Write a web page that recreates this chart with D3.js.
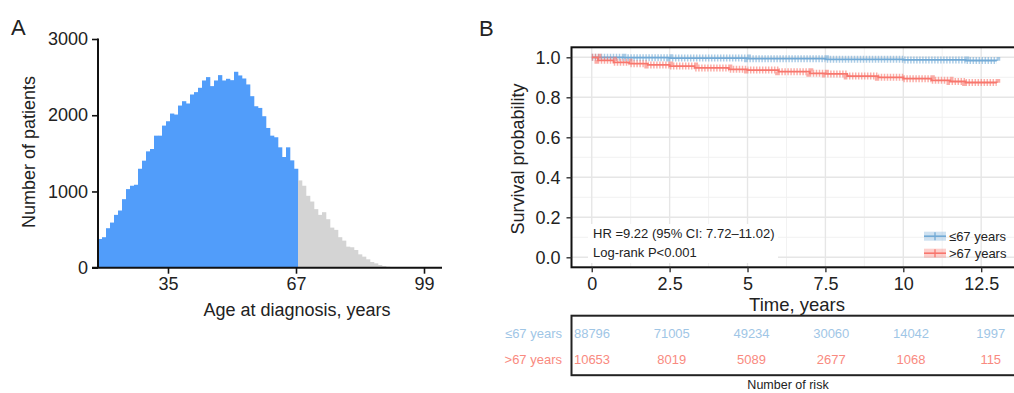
<!DOCTYPE html>
<html>
<head>
<meta charset="utf-8">
<script src="https://cdn.jsdelivr.net/npm/d3@7/dist/d3.min.js"></script>
<style>
  html, body { margin: 0; padding: 0; background: #fff; }
  svg text { font-family: "Liberation Sans", Arial, Helvetica, sans-serif; fill: #222; }
</style>
</head>
<body>
<svg id="chart" width="1014" height="393"></svg>
<script>
// ---- panel A data: patients per year of age (first bar = age 18)
const ageStart = 18;
const ageCutoff = 67;
const patientCounts = [
  377, 400, 518, 592, 693, 750, 899, 1031, 1075, 1088,
  1298, 1404, 1526, 1557, 1732, 1732, 1864, 1921, 2022, 2009,
  2127, 2184, 2154, 2272, 2303, 2360, 2456, 2500, 2382, 2456,
  2526, 2456, 2478, 2460, 2570, 2522, 2482, 2404, 2250, 2118,
  2096, 1987, 1833, 1732, 1711, 1579, 1452, 1579, 1408, 1298,
  1145, 1075, 943, 868, 768, 693, 728, 636, 526, 496,
  400, 355, 276, 268, 232, 175, 145, 110, 75, 57,
  35, 22, 13, 8, 5, 3, 2, 1
];
const ageTicks = [35, 67, 99];
const countTicks = [0, 1000, 2000, 3000];

// ---- panel B data: Kaplan-Meier curves
const groupNames = ["\u226467 years", ">67 years"];
const youngTimes = [0, 1, 2.5, 5, 7.5, 10, 12, 13];
const youngSurv  = [1.0, 0.998, 0.996, 0.993, 0.99, 0.987, 0.984, 0.983];
const oldTimes = [0, 0.2, 0.7, 1.2, 1.8, 2.5, 3.3, 4.4, 5, 6, 7, 7.5, 8.2, 9.2, 10, 10.9, 11.5, 12, 13];
const oldSurv  = [1.0, 0.985, 0.975, 0.968, 0.962, 0.956, 0.947, 0.94, 0.936, 0.928, 0.92, 0.917, 0.906, 0.9, 0.893, 0.885, 0.879, 0.874, 0.873];
const timeTicks = [0, 2.5, 5, 7.5, 10, 12.5];
const survTicks = [0, 0.2, 0.4, 0.6, 0.8, 1.0];

// ---- risk table
const riskTimes = [0, 2.5, 5, 7.5, 10, 12.5];
const youngAtRisk = [88796, 71005, 49234, 30060, 14042, 1997];
const oldAtRisk   = [10653, 8019, 5089, 2677, 1068, 115];

const blueBar = "#519dfa", greyBar = "#d4d4d4";
const blueLine = "#72aad6", redLine = "#f8766d";

const svg = d3.select("#chart");

// ================= panel A =================
const xA = d3.scaleLinear().domain([17.5, 103.5]).range([98, 442]);
const yA = d3.scaleLinear().domain([0, 3000]).range([267.7, 39]);

svg.append("text").attr("x", 11).attr("y", 35)
  .style("font-size", "22px").text("A");

const bars = patientCounts.map((c, i) => ({ age: ageStart + i, count: c }));
svg.append("g").selectAll("rect")
  .data(bars)
  .enter()
  .append("rect")
  .attr("x", d => xA(d.age - 0.5))
  .attr("width", d => xA(d.age + 0.5) - xA(d.age - 0.5) + 0.3)
  .attr("y", d => yA(d.count))
  .attr("height", d => yA(0) - yA(d.count))
  .attr("fill", d => d.age <= ageCutoff ? blueBar : greyBar);

const axA_y = svg.append("g").attr("transform", "translate(98,0)")
  .call(d3.axisLeft(yA).tickValues(countTicks).tickSize(6).tickPadding(4).tickFormat(d3.format("d")));
const axA_x = svg.append("g").attr("transform", "translate(0,267.7)")
  .call(d3.axisBottom(xA).tickValues(ageTicks).tickSize(6).tickPadding(4));
[axA_y, axA_x].forEach(ax => {
  ax.select(".domain").attr("stroke", "#111").attr("stroke-width", 2);
  ax.selectAll(".tick line").attr("stroke", "#111").attr("stroke-width", 1.6);
  ax.selectAll(".tick text").style("font-size", "18px").attr("fill", "#222")
    .style("font-family", "'Liberation Sans', Arial, sans-serif");
});
axA_y.select(".domain").attr("d", "M0,267.7V38.5");
axA_x.select(".domain").attr("d", "M92,0H442");

svg.append("text").attr("x", 297).attr("y", 316)
  .attr("text-anchor", "middle").style("font-size", "18px")
  .text("Age at diagnosis, years");
svg.append("text").attr("transform", "translate(34.5,152) rotate(-90)")
  .attr("text-anchor", "middle").style("font-size", "18px")
  .text("Number of patients");

// ================= panel B =================
const xB = d3.scaleLinear().domain([-0.65, 13.65]).range([571.5, 1017]);
const yB = d3.scaleLinear().domain([-0.05, 1.05]).range([267.3, 47.3]);

svg.append("text").attr("x", 479).attr("y", 36)
  .style("font-size", "22px").text("B");

const gridB = svg.append("g");
const minorT = [1.25, 3.75, 6.25, 8.75, 11.25, 13.75];
const minorS = [0.1, 0.3, 0.5, 0.7, 0.9];
gridB.selectAll(".vmin").data(minorT).enter().append("line")
  .attr("x1", d => xB(d)).attr("x2", d => xB(d))
  .attr("y1", yB.range()[0]).attr("y2", yB.range()[1])
  .attr("stroke", "#f0f0f0").attr("stroke-width", 0.9);
gridB.selectAll(".hmin").data(minorS).enter().append("line")
  .attr("x1", xB.range()[0]).attr("x2", xB.range()[1])
  .attr("y1", d => yB(d)).attr("y2", d => yB(d))
  .attr("stroke", "#f0f0f0").attr("stroke-width", 0.9);
gridB.selectAll(".vmaj").data(timeTicks).enter().append("line")
  .attr("x1", d => xB(d)).attr("x2", d => xB(d))
  .attr("y1", yB.range()[0]).attr("y2", yB.range()[1])
  .attr("stroke", "#e6e6e6").attr("stroke-width", 1.4);
gridB.selectAll(".hmaj").data(survTicks).enter().append("line")
  .attr("x1", xB.range()[0]).attr("x2", xB.range()[1])
  .attr("y1", d => yB(d)).attr("y2", d => yB(d))
  .attr("stroke", "#e6e6e6").attr("stroke-width", 1.4);

// white label box behind HR text
svg.append("rect").attr("x", 588).attr("y", 224).attr("width", 190).attr("height", 39)
  .attr("fill", "#fff");

const kmLine = d3.line()
  .x(d => xB(d[0]))
  .y(d => yB(d[1]))
  .curve(d3.curveStepAfter);

const curves = [
  { pts: youngTimes.map((t, i) => [t, youngSurv[i]]), color: blueLine },
  { pts: oldTimes.map((t, i) => [t, oldSurv[i]]), color: redLine }
];
curves.forEach(c => {
  // censor "+" marks drawn as a dashed thick stroke along the step path
  svg.append("path").attr("d", kmLine(c.pts))
    .attr("fill", "none").attr("stroke", c.color)
    .attr("stroke-width", 7).attr("stroke-dasharray", "1.5 1.5")
    .attr("opacity", 0.6);
  svg.append("path").attr("d", kmLine(c.pts))
    .attr("fill", "none").attr("stroke", c.color)
    .attr("stroke-width", 1.8);
});

// frame and axes
svg.append("rect").attr("x", 571.5).attr("y", 47.3)
  .attr("width", 1017 - 571.5).attr("height", 267.3 - 47.3)
  .attr("fill", "none").attr("stroke", "#111").attr("stroke-width", 2);

const axB_y = svg.append("g").attr("transform", "translate(571.5,0)")
  .call(d3.axisLeft(yB).tickValues(survTicks).tickSize(5).tickPadding(6).tickFormat(d3.format(".1f")));
const axB_x = svg.append("g").attr("transform", "translate(0,267.3)")
  .call(d3.axisBottom(xB).tickValues(timeTicks).tickSize(5).tickPadding(5).tickFormat(d => d));
[axB_y, axB_x].forEach(ax => {
  ax.select(".domain").remove();
  ax.selectAll(".tick line").attr("stroke", "#333").attr("stroke-width", 1.4);
  ax.selectAll(".tick text").style("font-size", "18px").attr("fill", "#222")
    .style("font-family", "'Liberation Sans', Arial, sans-serif");
});

svg.append("text").attr("x", 797).attr("y", 310.5)
  .attr("text-anchor", "middle").style("font-size", "18.5px").text("Time, years");
svg.append("text").attr("transform", "translate(524,159) rotate(-90)")
  .attr("text-anchor", "middle").style("font-size", "18px").text("Survival probability");

svg.append("text").attr("x", 593).attr("y", 237.5).style("font-size", "13px")
  .text("HR =9.22 (95% CI: 7.72\u201311.02)");
svg.append("text").attr("x", 593).attr("y", 256.5).style("font-size", "13px")
  .text("Log-rank P<0.001");

// legend
const legend = svg.append("g");
[blueLine, redLine].forEach((col, i) => {
  const gy = 236.2 + i * 17;
  legend.append("rect").attr("x", 924).attr("y", gy - 4.5).attr("width", 22).attr("height", 9)
    .attr("fill", col).attr("opacity", 0.35);
  legend.append("line").attr("x1", 924).attr("x2", 946).attr("y1", gy).attr("y2", gy)
    .attr("stroke", col).attr("stroke-width", 1.6);
  legend.append("line").attr("x1", 935).attr("x2", 935).attr("y1", gy - 4).attr("y2", gy + 4)
    .attr("stroke", col).attr("stroke-width", 1.3);
  legend.append("text").attr("x", 949).attr("y", gy + 4.5)
    .style("font-size", "13px").text(groupNames[i]);
});

// ================= risk table =================
const xR = d3.scaleLinear().domain([0, 10]).range([592, 911]);
svg.append("rect").attr("x", 571.5).attr("y", 315.7)
  .attr("width", 460).attr("height", 59.5)
  .attr("fill", "none").attr("stroke", "#222").attr("stroke-width", 2);

const riskRows = [
  { name: groupNames[0], vals: youngAtRisk, color: "#9fc6e6", y: 337.5 },
  { name: groupNames[1], vals: oldAtRisk, color: "#f98a80", y: 363.5 }
];
riskRows.forEach(r => {
  svg.append("text").attr("x", 562).attr("y", r.y).attr("text-anchor", "end")
    .style("font-size", "13px").style("fill", r.color).text(r.name);
  svg.append("g").selectAll("text")
    .data(riskTimes.map((t, i) => ({ t: t, v: r.vals[i] })))
    .enter()
    .append("text")
    .attr("x", d => xR(d.t))
    .attr("y", r.y)
    .attr("text-anchor", "middle")
    .style("font-size", "13px").style("fill", r.color)
    .text(d => d.v);
});
svg.append("text").attr("x", 788).attr("y", 389)
  .attr("text-anchor", "middle").style("font-size", "12.5px").text("Number of risk");
</script>
</body>
</html>
